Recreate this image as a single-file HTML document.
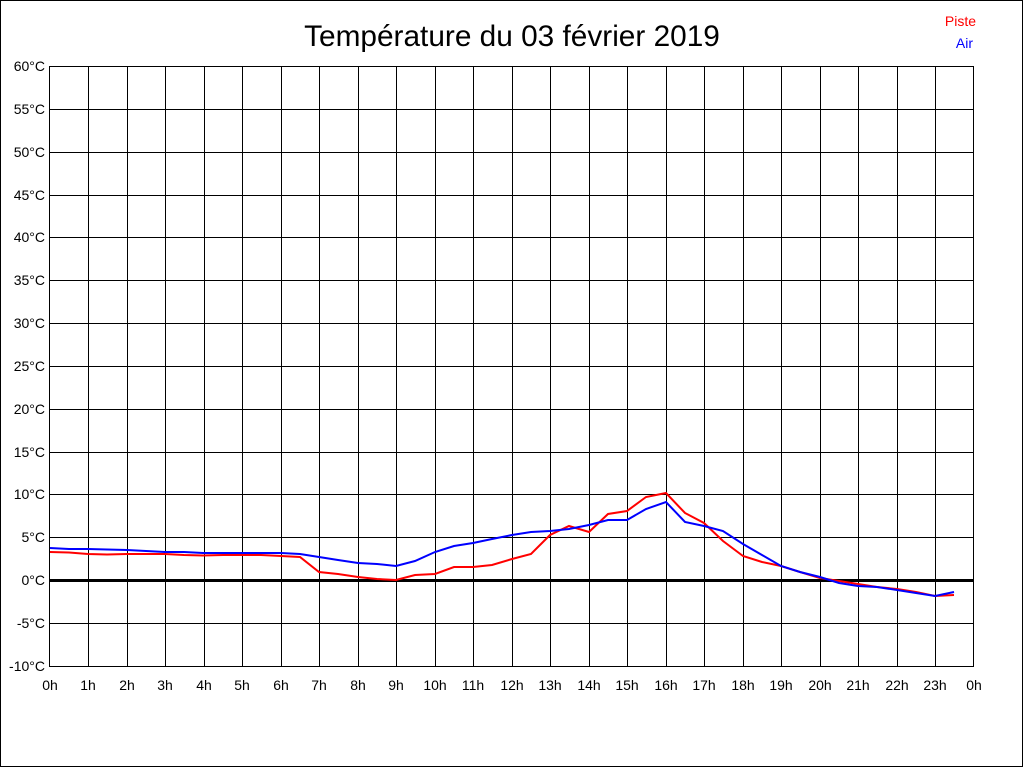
<!DOCTYPE html>
<html><head><meta charset="utf-8"><style>
html,body{margin:0;padding:0;background:#fff;}
svg{display:block;font-family:"Liberation Sans",Arial,sans-serif;}
</style></head><body>
<svg width="1024" height="768" viewBox="0 0 1024 768" xmlns="http://www.w3.org/2000/svg">
<rect x="0.5" y="0.5" width="1022" height="766" fill="#fff" stroke="#000" stroke-width="1"/>
<text x="512" y="46" font-size="29.8" text-anchor="middle" fill="#000">Température du 03 février 2019</text>
<text x="976" y="26" font-size="14" text-anchor="end" fill="#f00">Piste</text>
<text x="973" y="48" font-size="14" text-anchor="end" fill="#00f">Air</text>
<g stroke="#000" stroke-width="1" fill="none" shape-rendering="crispEdges">
<rect x="49.5" y="66.5" width="924" height="600"/>
<path d="M88.5 66V666M127.5 66V666M165.5 66V666M204.5 66V666M242.5 66V666M281.5 66V666M319.5 66V666M358.5 66V666M396.5 66V666M435.5 66V666M473.5 66V666M512.5 66V666M550.5 66V666M589.5 66V666M627.5 66V666M666.5 66V666M704.5 66V666M743.5 66V666M781.5 66V666M820.5 66V666M858.5 66V666M897.5 66V666M935.5 66V666"/>
<path d="M50 109.5H974M50 152.5H974M50 195.5H974M50 237.5H974M50 280.5H974M50 323.5H974M50 366.5H974M50 409.5H974M50 452.5H974M50 494.5H974M50 537.5H974M50 623.5H974"/>
</g>
<rect x="50" y="579" width="924" height="3" fill="#000"/>
<g font-size="14" text-anchor="end" fill="#000">
<text x="45" y="71">60°C</text><text x="45" y="114">55°C</text><text x="45" y="157">50°C</text><text x="45" y="200">45°C</text><text x="45" y="242">40°C</text><text x="45" y="285">35°C</text><text x="45" y="328">30°C</text><text x="45" y="371">25°C</text><text x="45" y="414">20°C</text><text x="45" y="457">15°C</text><text x="45" y="499">10°C</text><text x="45" y="542">5°C</text><text x="45" y="585">0°C</text><text x="45" y="628">-5°C</text><text x="45" y="671">-10°C</text>
</g>
<g font-size="14" text-anchor="middle" fill="#000">
<text x="50" y="690">0h</text><text x="88" y="690">1h</text><text x="127" y="690">2h</text><text x="165" y="690">3h</text><text x="204" y="690">4h</text><text x="242" y="690">5h</text><text x="281" y="690">6h</text><text x="319" y="690">7h</text><text x="358" y="690">8h</text><text x="396" y="690">9h</text><text x="435" y="690">10h</text><text x="473" y="690">11h</text><text x="512" y="690">12h</text><text x="550" y="690">13h</text><text x="589" y="690">14h</text><text x="627" y="690">15h</text><text x="666" y="690">16h</text><text x="704" y="690">17h</text><text x="743" y="690">18h</text><text x="781" y="690">19h</text><text x="820" y="690">20h</text><text x="858" y="690">21h</text><text x="897" y="690">22h</text><text x="935" y="690">23h</text><text x="974" y="690">0h</text>
</g>
<polyline fill="none" stroke="#f00" stroke-width="2" points="50,552 69,552.5 88,554 107,554.5 127,554 146,554 165,554 184,555 203,555.5 223,555 242,555 261,555 281,556 300,557 319,572 338,574 358,577 377,579 396,580 415,575 435,574 454,567 473,567 492,565 512,559 531,554 550,535 569,526 589,532 608,514 627,511 646,497 666,493 685,513 704,523 723,541 743,556 762,562 781,566 800,572 820,578 839,581 858,584 877,587 897,589 916,592 935,596 954,595"/>
<polyline fill="none" stroke="#00f" stroke-width="2" points="50,548 69,549 88,549 107,549.5 127,550 146,551 165,552 184,552 203,553 223,553 242,553 261,553 281,553 300,554 319,557 338,560 358,563 377,564 396,566 415,561 435,552 454,546 473,543 492,539 512,535 531,532 550,531 569,529 589,525 608,520 627,520 646,509 666,502 685,522 704,526 723,531 743,544 762,555 781,566 800,572 820,577 839,583 858,586 877,587 897,590 916,593 935,596 954,592"/>
</svg>
</body></html>
